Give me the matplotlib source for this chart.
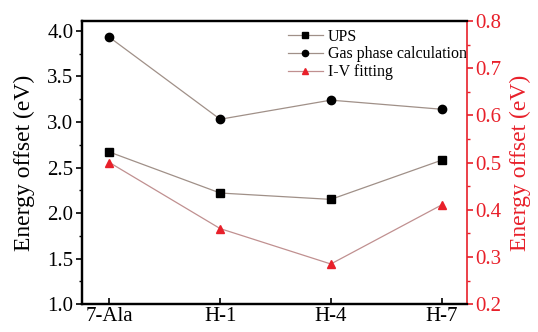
import matplotlib
matplotlib.use("Agg")
import matplotlib.pyplot as plt
from matplotlib.ticker import MultipleLocator

# Veriler
ornekler = ["7-Ala", "H-1", "H-4", "H-7"]
ups = [2.67, 2.22, 2.15, 2.58]
gaz_faz = [3.93, 3.03, 3.24, 3.14]
iv_fit = [0.50, 0.36, 0.285, 0.41]

plt.rcParams["font.family"] = ["Liberation Serif", "DejaVu Serif"]

fig = plt.figure(figsize=(5.38, 3.32), dpi=100)
ax = fig.add_axes([0.152, 0.084, 0.716, 0.853])
ax2 = ax.twinx()

x = list(range(len(ornekler)))
cizgi = "#a09088"
l1, = ax.plot(x, ups, color=cizgi, lw=0.9, marker="s", ms=5.5,
              mfc="black", mec="black", label="UPS")
l2, = ax.plot(x, gaz_faz, color=cizgi, lw=0.9, marker="o", ms=6,
              mfc="black", mec="black", label="Gas phase calculation")
l3, = ax2.plot(x, iv_fit, color="#c09090", lw=0.9, marker="^", ms=6,
               mfc="#e8202a", mec="#e8202a", label="I-V fitting")

ax.set_xlim(-0.25, 3.23)
ax.set_ylim(1.0, 4.11)
ax2.set_ylim(0.2, 0.8)
ax.set_xticks(x)
ax.set_xticklabels(ornekler)

ax.yaxis.set_major_locator(MultipleLocator(0.5))
ax.yaxis.set_minor_locator(MultipleLocator(0.25))
ax2.yaxis.set_major_locator(MultipleLocator(0.1))
ax2.yaxis.set_minor_locator(MultipleLocator(0.05))

ax.tick_params(axis="y", direction="out", length=4, width=1.2, labelsize=15, pad=2)
ax.tick_params(axis="y", which="minor", direction="out", length=2.5, width=1)
ax.tick_params(axis="x", direction="in", length=4, width=1.2, labelsize=15, pad=2)
ax2.tick_params(axis="y", direction="out", length=4, width=1.2, labelsize=15,
                colors="#e8202a", pad=2)
ax2.tick_params(axis="y", which="minor", direction="out", length=2.5, width=1,
                colors="#e8202a")

for s in ["left", "bottom", "top"]:
    ax.spines[s].set_linewidth(1.6)
    ax2.spines[s].set_linewidth(1.6)
ax2.spines["right"].set_color("#e8202a")
ax2.spines["right"].set_linewidth(1.2)
ax.spines["right"].set_visible(False)

ax.set_ylabel("Energy offset (eV)", fontsize=17, labelpad=9)
ax2.set_ylabel("Energy offset (eV)", fontsize=17, color="#e8202a", labelpad=6)

ax.legend(handles=[l1, l2, l3], loc="upper right", frameon=False, fontsize=11.5,
          handlelength=2.2, handletextpad=0.3, labelspacing=0.1, markerscale=0.75,
          borderaxespad=0.1, bbox_to_anchor=(1.02, 1.0))

plt.savefig("out.png", dpi=100)
